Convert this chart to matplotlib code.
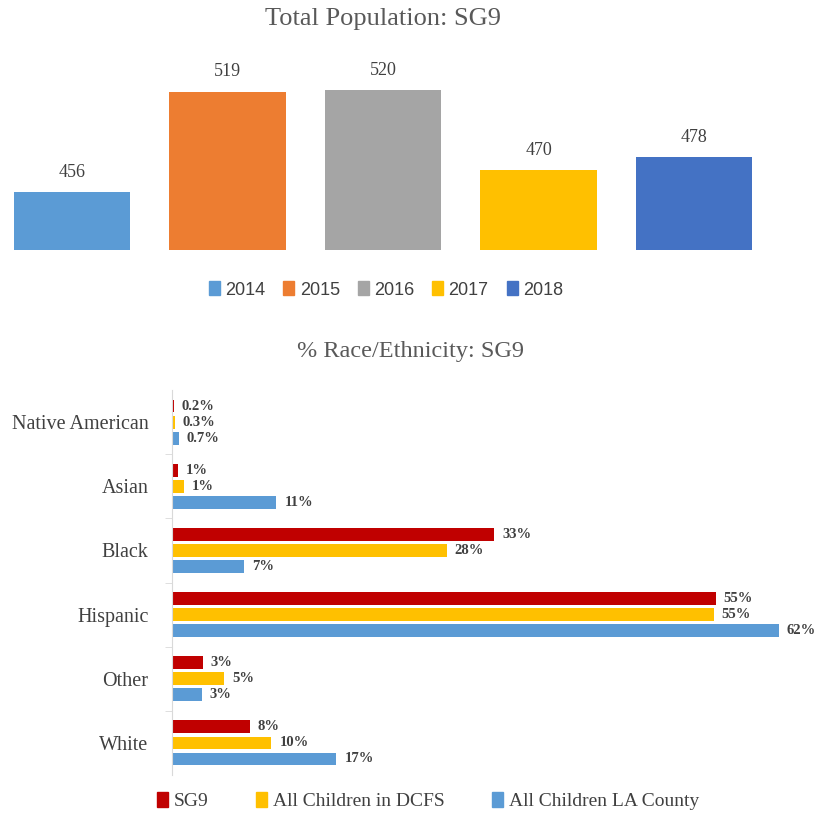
import matplotlib.pyplot as plt
import numpy as np

# top chart data
years = ["2014", "2015", "2016", "2017", "2018"]
totals = [456, 519, 520, 470, 478]
year_colors = ["#5B9BD5", "#ED7D31", "#A5A5A5", "#FFC000", "#4472C4"]

# bottom chart data
races = ["Native American", "Asian", "Black", "Hispanic", "Other", "White"]
sg9 = [0.2, 0.6, 32.7, 55.2, 3.1, 7.9]
dcfs = [0.3, 1.2, 27.9, 55.0, 5.3, 10.1]
la_county = [0.7, 10.6, 7.3, 61.6, 3.0, 16.7]
sg9_labels = ["0.2%", "1%", "33%", "55%", "3%", "8%"]
dcfs_labels = ["0.3%", "1%", "28%", "55%", "5%", "10%"]
la_labels = ["0.7%", "11%", "7%", "62%", "3%", "17%"]
series_names = ["SG9", "All Children in DCFS", "All Children LA County"]
series_colors = ["#C00000", "#FFC000", "#5B9BD5"]

W, H = 821, 817
fig = plt.figure(figsize=(W / 100, H / 100), dpi=100)
serif = "Liberation Serif"
txt = "#404040"

def px_axes(x0, y0, x1, y1):
    return fig.add_axes([x0 / W, 1 - y1 / H, (x1 - x0) / W, (y1 - y0) / H])

# ---- Total population ----
ax1 = px_axes(0, 60, W, 250)
x = np.arange(len(years))
ax1.bar(x, totals, width=0.75, color=year_colors)
ax1.set_xlim(-72 / 155.5, (W - 72) / 155.5)
ax1.set_ylim(420, 420 + 190 / 1.6)
for xi, v in zip(x, totals):
    ax1.text(xi, v + 7, str(v), ha="center", va="bottom", fontsize=13,
             family=serif, color=txt)
for s in ax1.spines.values():
    s.set_visible(False)
ax1.set_xticks([])
ax1.set_yticks([])
fig.text(383 / W, 1 - 19 / H, "Total Population: SG9", ha="center", va="center",
         fontsize=19, family=serif, color="#595959")
handles = [plt.Rectangle((0, 0), 1, 1, color=c) for c in year_colors]
leg1 = fig.legend(handles, years, loc="center", bbox_to_anchor=(386 / W, 1 - 290 / H),
                  ncol=5, frameon=False, handlelength=0.6, handleheight=0.8,
                  handletextpad=0.3, columnspacing=1.0,
                  prop={"family": "Liberation Sans", "size": 13})

# ---- Race / ethnicity ----
ax2 = px_axes(172, 390, W, 775)
y = np.arange(len(races))
off = 0.25
h = 0.2
all_vals = [sg9, dcfs, la_county]
all_labels = [sg9_labels, dcfs_labels, la_labels]
for k in range(3):
    ypos = y + (k - 1) * off
    ax2.barh(ypos, all_vals[k], height=h, color=series_colors[k], label=series_names[k])
    for yi, v, lab in zip(ypos, all_vals[k], all_labels[k]):
        ax2.text(v + 0.8, yi, lab, va="center", ha="left", fontsize=10.5,
                 fontweight="bold", family=serif, color=txt)
ax2.set_xlim(0, (W - 172) / 9.85)
ax2.set_ylim(5.5, -0.5)
ax2.set_yticks(y)
ax2.set_yticklabels(races, fontsize=14.5, family=serif, color=txt)
ax2.set_yticks(np.arange(0.5, 5.0, 1.0), minor=True)
ax2.tick_params(axis="y", which="major", length=0, pad=17)
ax2.tick_params(axis="y", which="minor", length=5, color="#D9D9D9")
ax2.set_xticks([])
for name in ["top", "right", "bottom"]:
    ax2.spines[name].set_visible(False)
ax2.spines["left"].set_color("#D9D9D9")
fig.text(410 / W, 1 - 352 / H, "% Race/Ethnicity: SG9", ha="center", va="center",
         fontsize=17.5, family=serif, color="#595959")
handles2 = [plt.Rectangle((0, 0), 1, 1, color=c) for c in series_colors]
leg2 = fig.legend(handles2, series_names, loc="center", bbox_to_anchor=(428 / W, 1 - 801 / H),
                  ncol=3, frameon=False, handlelength=0.6, handleheight=0.8,
                  handletextpad=0.3, columnspacing=2.4,
                  prop={"family": serif, "size": 14})
for t in leg1.get_texts() + leg2.get_texts():
    t.set_color(txt)

fig.savefig("out.png", dpi=100)
